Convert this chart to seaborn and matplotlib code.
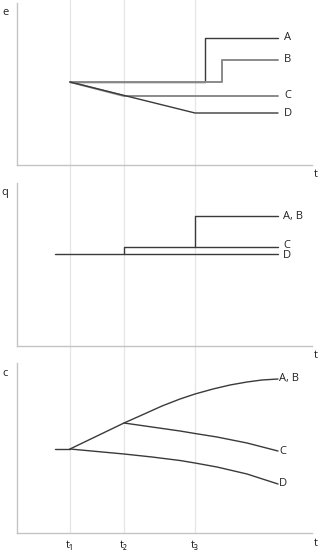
import numpy as np
import pandas as pd
import seaborn as sns
import matplotlib.pyplot as plt

sns.set_style("white")
plt.rcParams['font.family'] = ['Open Sans', 'DejaVu Sans']

# time marks (arbitrary units)
t_marks = [53, 107, 178]
t_labels = ['t\u2081', 't\u2082', 't\u2083']
t_end = 261

# panel e
e_A_x = [53, 188, 188, 261]
e_A_y = [83, 83, 127, 127]
e_B_x = [53, 205, 205, 261]
e_B_y = [83, 83, 105, 105]
e_C_x = [53, 107, 261]
e_C_y = [83, 69, 69]
e_D_x = [53, 178, 261]
e_D_y = [83, 52, 52]

# panel q
q_D_x = [38, 261]
q_D_y = [92, 92]
q_C_x = [107, 107, 261]
q_C_y = [92, 99, 99]
q_AB_x = [178, 178, 261]
q_AB_y = [99, 130, 130]

# panel c
c_pre_x = [38, 53]
c_pre_y = [84, 84]
c_AB_x = [53, 80, 107, 125, 145, 163, 178, 196, 213, 230, 245, 261]
c_AB_y = [84, 97, 110, 118, 127, 134, 139, 144, 148, 151, 153, 154]
c_C_x = [107, 135, 163, 178, 200, 230, 261]
c_C_y = [110, 106, 102, 99.5, 96, 90, 82]
c_D_x = [53, 80, 107, 135, 163, 178, 200, 230, 261]
c_D_y = [84, 81.5, 79, 76, 72.5, 70, 66, 59, 49]

dark = '#3a3a3a'
grey = '#8a8a8a'
spine = '#c4c4c4'

fig = plt.figure(figsize=(3.21, 5.5), dpi=100)
W = 295 / 321
L = 17 / 321

# background axes holding the vertical guide lines through all panels
bg = fig.add_axes([L, 17 / 550, W, 1 - 17 / 550])
bg.set_xlim(0, 295)
for t in t_marks:
    bg.axvline(t, color='#e6e6e6', lw=0.9)
bg.axis('off')


def panel(rect, ylim, label, series, names):
    ax = fig.add_axes(rect)
    ax.patch.set_alpha(0)
    ax.set_xlim(0, 295)
    ax.set_ylim(0, ylim)
    for (xs, ys, col, lw) in series:
        df = pd.DataFrame({'x': xs, 'y': ys})
        sns.lineplot(data=df, x='x', y='y', sort=False, estimator=None,
                     color=col, lw=lw, ax=ax)
    for txt, yv, dx in names:
        ax.text(t_end + dx, yv, txt, fontsize=8, va='center', ha='left', color='#222')
    sns.despine(ax=ax)
    for s in ['left', 'bottom']:
        ax.spines[s].set_color(spine)
        ax.spines[s].set_linewidth(1.0)
    ax.set_xticks([])
    ax.set_yticks([])
    ax.set_xlabel('')
    ax.set_ylabel('')
    ax.text(-0.04, 0.94, label, transform=ax.transAxes, fontsize=8, ha='center', va='center', color='#222')
    ax.text(1.013, -0.06, 't', transform=ax.transAxes, fontsize=8, ha='center', va='center', color='#222')
    return ax


ax1 = panel([L, 385 / 550, W, 162 / 550], 162, 'e',
            [(e_A_x, e_A_y, dark, 1.0), (e_B_x, e_B_y, grey, 1.4),
             (e_C_x, e_C_y, grey, 1.4), (e_D_x, e_D_y, dark, 1.0)],
            [('A', e_A_y[-1], 6), ('B', e_B_y[-1], 6), ('C', e_C_y[-1], 6), ('D', e_D_y[-1], 6)])

ax2 = panel([L, 204 / 550, W, 163 / 550], 163, 'q',
            [(q_D_x, q_D_y, dark, 1.0), (q_C_x, q_C_y, dark, 1.0), (q_AB_x, q_AB_y, dark, 1.0)],
            [('A, B', q_AB_y[-1], 5), ('C', q_C_y[-1] + 2, 5), ('D', q_D_y[-1] - 2, 5)])

ax3 = panel([L, 17 / 550, W, 170 / 550], 170, 'c',
            [(c_pre_x, c_pre_y, dark, 1.0), (c_AB_x, c_AB_y, dark, 1.0),
             (c_C_x, c_C_y, dark, 1.0), (c_D_x, c_D_y, dark, 1.0)],
            [('A, B', c_AB_y[-1], 1), ('C', c_C_y[-1], 1), ('D', c_D_y[-1], 1)])
ax3.set_xticks(t_marks)
ax3.set_xticklabels(t_labels, fontsize=8, color='#222')
ax3.tick_params(axis='x', length=0, pad=5)

fig.savefig('out.png', dpi=100)
